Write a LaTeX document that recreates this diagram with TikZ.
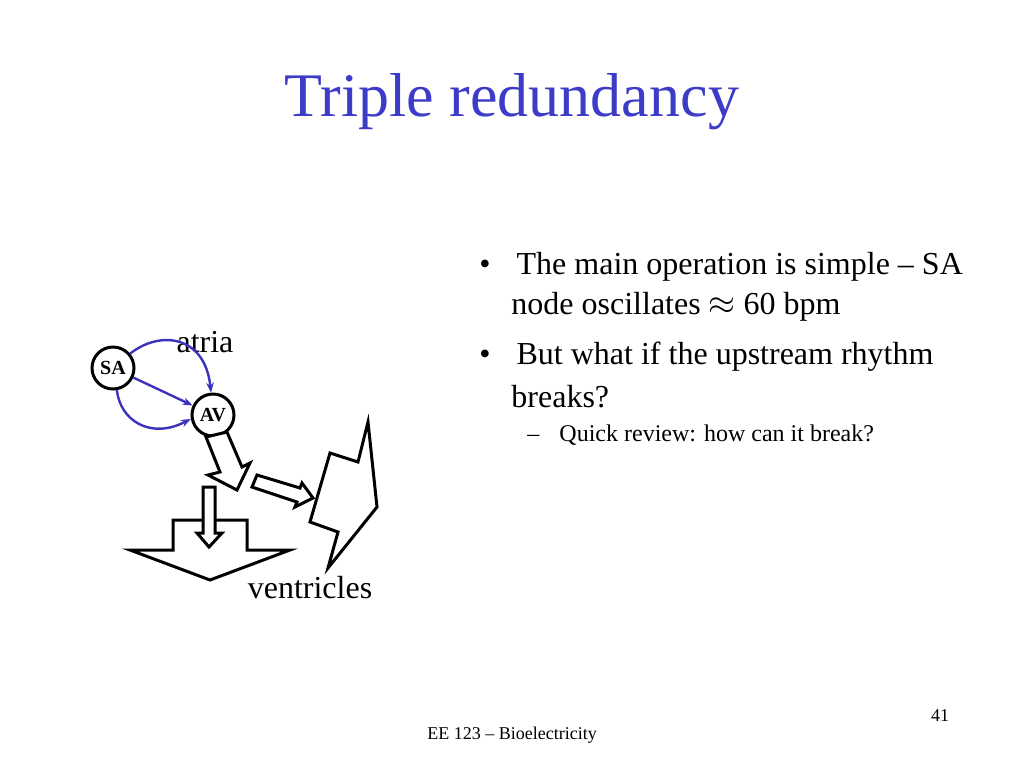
\documentclass[tikz,border=0pt]{standalone}
\usepackage{fontspec}
\setmainfont{Liberation Serif}
\usetikzlibrary{arrows.meta}
\definecolor{titleblue}{RGB}{60,60,200}
\definecolor{linkblue}{RGB}{60,50,190}
\begin{document}
\begin{tikzpicture}[x=0.5pt,y=-0.5pt,thick]
\tikzset{
  nodecirc/.style={circle,draw,line width=1.5pt,minimum size=21pt,inner sep=0pt,font=\fontsize{10}{12}\selectfont\bfseries},
  link/.style={draw=linkblue,line width=1.2pt,-{Stealth[length=5pt]}},
  blockarrow/.style={draw,line width=1.5pt,line join=miter,fill=white},
  bullet/.style={anchor=west,font=\fontsize{16}{19}\selectfont}
}
\useasboundingbox (0,0) rectangle (1024,768);
% title
\node[text=titleblue,font=\fontsize{31}{36}\selectfont] (title) at (512,102) {Triple redundancy};
% conduction nodes
\node[nodecirc] (SA) at (113,368) {SA};
\node[nodecirc] (AV) at (213,415) {AV};
\node[font=\fontsize{16}{19}\selectfont] (atria) at (205,342) {atria};
\draw[link] (SA) -- (AV);
\draw[link] (SA.40) .. controls (160,330) and (205,335) .. (AV.95);
\draw[link] (SA.-80) .. controls (120,420) and (150,440) .. (AV.190);
% block arrows
\draw[blockarrow] (206,437) -- (227,432) -- (242,467) -- (250,463) -- (237,490) -- (208,475) -- (220,472) -- cycle;
\draw[blockarrow] (257,475) -- (300,488) -- (302,483) -- (313,498) -- (295,507) -- (297,502) -- (252,487) -- cycle;
% ventricles
\draw[blockarrow] (368,422) -- (377,507) -- (328,568) -- (338,532) -- (310,522) -- (330,453) -- (358,462) -- cycle;
\draw[blockarrow] (130,550) -- (173,550) -- (173,520) -- (247,520) -- (247,550) -- (290,550) -- (210,580) -- cycle;
\draw[blockarrow] (203,487) -- (215,487) -- (215,533) -- (222,533) -- (209,547) -- (197,533) -- (203,533) -- cycle;
\node[font=\fontsize{16}{19}\selectfont] (vent) at (310,588) {ventricles};
% bullets
\node[bullet] (b1) at (472,267) {\textbullet\hspace{13pt}The main operation is simple -- SA};
\node[bullet] (b1b) at (504,307) {node oscillates $\approx$ 60 bpm};
\node[bullet] (b2) at (472,357) {\textbullet\hspace{13pt}But what if the upstream rhythm};
\node[bullet] (b2b) at (504,397) {breaks?};
\node[anchor=west,font=\fontsize{12}{14}\selectfont] (sub) at (520,435) {--\hspace{10pt}Quick review: how can it break?};
% footer
\node[font=\fontsize{9}{11}\selectfont] (num) at (940,716) {41};
\node[font=\fontsize{9}{11}\selectfont] (foot) at (512,735) {EE 123 -- Bioelectricity};
\end{tikzpicture}
\end{document}
